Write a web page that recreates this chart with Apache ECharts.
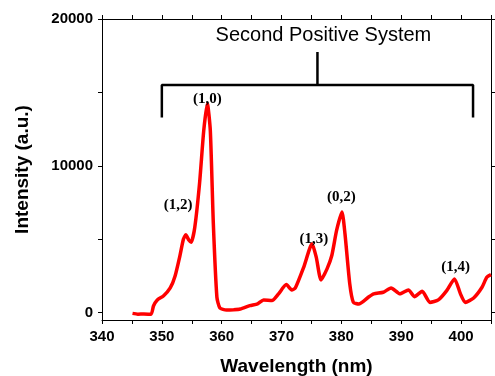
<!DOCTYPE html>
<html>
<head>
<meta charset="utf-8">
<style>
  html, body { margin: 0; padding: 0; background: #fff; }
  #chart { width: 495px; height: 376px; }
</style>
<script src="https://cdn.jsdelivr.net/npm/echarts@6/dist/echarts.min.js"></script>
</head>
<body>
<div id="chart"></div>
<script>
// spectrum
const wavelength = [345.1, 346.0, 347.0, 348.2, 348.6, 349.2, 350.3, 351.4, 352.2, 353.0,
  353.6, 354.0, 354.5, 354.9, 355.5, 356.3, 357.0, 357.6, 358.1, 358.6,
  359.2, 359.7, 360.8, 362.0, 363.1, 364.7, 366.0, 367.0, 368.4, 369.5,
  370.8, 371.7, 372.3, 373.7, 375.1, 375.8, 376.6, 377.6, 378.4, 379.2,
  380.1, 380.6, 381.4, 382.0, 382.9, 384.5, 385.4, 387.0, 388.3, 389.8,
  391.2, 392.2, 393.5, 394.8, 396.2, 397.6, 398.9, 399.9, 400.7, 402.1,
  403.5, 404.3, 405.0]
const intensity = [-50, -100, -90, -110, 450, 850, 1150, 1680, 2480, 3840,
  5000, 5300, 4950, 4800, 5800, 8800, 12400, 14250, 12400, 6100,
  1050, 320, 180, 200, 250, 480, 600, 870, 820, 1280,
  1910, 1550, 1680, 3090, 4690, 3780, 2230, 2980, 3890, 5600,
  6850, 5370, 1960, 700, 590, 1050, 1280, 1390, 1680, 1280,
  1550, 1090, 1460, 700, 870, 1500, 2300, 1280, 700, 1000,
  1730, 2410, 2590]

// ticks
const xLabels = [340, 350, 360, 370, 380, 390, 400]
const xTicks = [340, 345, 350, 355, 360, 365, 370, 375, 380, 385, 390, 395, 400, 405]
const yLabels = [0, 10000, 20000]
const yTicks = [0, 5000, 10000, 15000, 20000]

// band labels
const bandNames = ['(1,0)', '(1,2)', '(1,3)', '(0,2)', '(1,4)']
const bandX = [357.6, 352.7, 375.4, 380.0, 399.1]
const bandY = [14550, 7300, 5000, 7850, 3100]

// bracket for the Second Positive System
const bracketX = [350, 350, 402, 402]
const bracketY = [13300, 15500, 15500, 13300]
const stemX = [376, 376]
const stemY = [15500, 17750]
const systemTitle = 'Second Positive System'

const chart = echarts.init(document.getElementById('chart'))

const sans = 'Liberation Sans, Arial, sans-serif'
const zip = (a, b) => a.map((v, i) => [v, b[i]])

const frameAxis = {
  axisLine: { show: true, onZero: false, lineStyle: { color: '#000', width: 1 } },
  axisTick: { show: true, inside: false, length: 4, lineStyle: { color: '#000' } },
  splitLine: { show: false }
}

const option = {
  animation: false,
  backgroundColor: '#fff',
  grid: { left: 102, right: 4, top: 19, bottom: 56, containLabel: false, outerBoundsMode: 'none' },
  xAxis: [
    {
      type: 'value', position: 'bottom', min: 340, max: 405,
      ...frameAxis,
      axisTick: { ...frameAxis.axisTick, customValues: xTicks },
      axisLabel: { customValues: xLabels, formatter: v => String(v), color: '#000', fontFamily: sans, fontWeight: 'bold', fontSize: 15, margin: 9 },
      name: 'Wavelength (nm)', nameLocation: 'middle', nameGap: 37,
      nameTextStyle: { color: '#000', fontFamily: sans, fontWeight: 'bold', fontSize: 19 }
    },
    {
      type: 'value', position: 'top', min: 340, max: 405,
      ...frameAxis,
      axisTick: { ...frameAxis.axisTick, customValues: xTicks },
      axisLabel: { show: false }
    }
  ],
  yAxis: [
    {
      type: 'value', position: 'left', min: -500, max: 20000,
      ...frameAxis,
      axisTick: { ...frameAxis.axisTick, customValues: yTicks },
      axisLabel: { customValues: yLabels, formatter: v => String(v), color: '#000', fontFamily: sans, fontWeight: 'bold', fontSize: 15, margin: 9 },
      name: 'Intensity (a.u.)', nameLocation: 'middle', nameGap: 70,
      nameTextStyle: { color: '#000', fontFamily: sans, fontWeight: 'bold', fontSize: 19 }
    },
    {
      type: 'value', position: 'right', min: -500, max: 20000,
      ...frameAxis,
      axisTick: { ...frameAxis.axisTick, customValues: yTicks },
      axisLabel: { show: false }
    }
  ],
  series: [
    {
      type: 'line',
      data: zip(wavelength, intensity),
      showSymbol: false,
      smooth: 0.2,
      lineStyle: { color: '#ff0000', width: 3.5 },
      z: 3
    },
    {
      type: 'line',
      data: zip(bracketX, bracketY),
      showSymbol: false,
      lineStyle: { color: '#000', width: 2.5 },
      z: 2
    },
    {
      type: 'line',
      data: zip(stemX, stemY),
      showSymbol: false,
      lineStyle: { color: '#000', width: 2.5 },
      z: 2
    },
    {
      type: 'scatter',
      symbolSize: 0,
      itemStyle: { opacity: 1 },
      data: bandNames.map((n, i) => ({ name: n, value: [bandX[i], bandY[i]] })),
      label: {
        show: true, position: 'inside', formatter: p => p.name, opacity: 1,
        color: '#000', fontFamily: 'Liberation Serif, Times New Roman, serif', fontWeight: 'bold', fontSize: 15
      },
      z: 4
    },
    {
      type: 'scatter',
      symbolSize: 0,
      itemStyle: { opacity: 1 },
      data: [{ name: systemTitle, value: [377, 18900] }],
      label: {
        show: true, position: 'inside', formatter: p => p.name, opacity: 1,
        color: '#000', fontFamily: sans, fontSize: 20
      },
      z: 4
    }
  ]
}

chart.setOption(option)
</script>
</body>
</html>
